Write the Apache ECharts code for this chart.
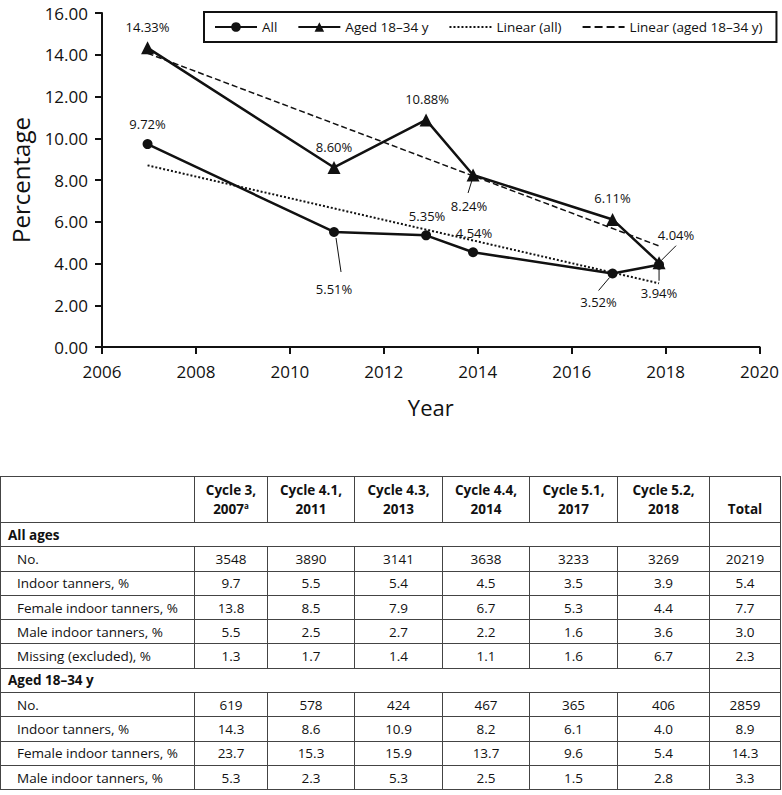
<!DOCTYPE html>
<html><head><meta charset="utf-8">
<script src="https://cdn.jsdelivr.net/npm/echarts@6/dist/echarts.min.js"></script>
<style>
html,body{margin:0;padding:0;background:#fff;}
body{width:782px;height:795px;position:relative;overflow:hidden;font-family:'Open Sans',sans-serif;}
#chart{position:absolute;left:0;top:0;width:782px;height:460px;}
#tbl{position:absolute;left:0;top:476px;border-collapse:collapse;table-layout:fixed;width:780px;font-size:13.5px;color:#111;}
#tbl td{border:1px solid #444;padding:0;text-align:center;height:23.3px;line-height:16px;white-space:nowrap;}
#tbl td.lab{text-align:left;padding-left:16px;}
#tbl td.sec{text-align:left;padding-left:7px;font-weight:bold;}
#tbl tr.head td{font-weight:bold;height:42px;vertical-align:bottom;padding-bottom:3px;line-height:19px;}
#tbl sup{font-size:8px;line-height:0;}
</style></head><body>
<div id="chart"></div>
<table id="tbl"></table>
<script>
// ---- chart data ----
const years = [2006.97, 2010.94, 2012.9, 2013.9, 2016.87, 2017.86];
const allAges = [9.72, 5.51, 5.35, 4.54, 3.52, 3.94];
const aged1834 = [14.33, 8.60, 10.88, 8.24, 6.11, 4.04];
const trendYears = [2006.97, 2017.86];
const trendAll = [8.70, 3.05];
const trendAged = [14.07, 4.84];
const seriesNames = ['All', 'Aged 18\u201334 y', 'Linear (all)', 'Linear (aged 18\u201334 y)'];

// ---- table data ----
const headLine1 = ['Cycle 3,', 'Cycle 4.1,', 'Cycle 4.3,', 'Cycle 4.4,', 'Cycle 5.1,', 'Cycle 5.2,'];
const headLine2 = ['2007', '2011', '2013', '2014', '2017', '2018'];
const headTotal = 'Total';
const sectionAll = 'All ages';
const rowsAll = [
  ['No.', '3548', '3890', '3141', '3638', '3233', '3269', '20219'],
  ['Indoor tanners, %', '9.7', '5.5', '5.4', '4.5', '3.5', '3.9', '5.4'],
  ['Female indoor tanners, %', '13.8', '8.5', '7.9', '6.7', '5.3', '4.4', '7.7'],
  ['Male indoor tanners, %', '5.5', '2.5', '2.7', '2.2', '1.6', '3.6', '3.0'],
  ['Missing (excluded), %', '1.3', '1.7', '1.4', '1.1', '1.6', '6.7', '2.3']
];
const sectionAged = 'Aged 18\u201334 y';
const rowsAged = [
  ['No.', '619', '578', '424', '467', '365', '406', '2859'],
  ['Indoor tanners, %', '14.3', '8.6', '10.9', '8.2', '6.1', '4.0', '8.9'],
  ['Female indoor tanners, %', '23.7', '15.3', '15.9', '13.7', '9.6', '5.4', '14.3'],
  ['Male indoor tanners, %', '5.3', '2.3', '5.3', '2.5', '1.5', '2.8', '3.3']
];

// ---- layout (label centre offsets from point, px; leader segments relative to point) ----
const offAll = [[0,-20],[0,57],[1,-19],[1,-19],[-14,28],[0,28]];
const leadAll = [null, [[2,6],[7,40]], null, null, [[-3,4],[-14,17]], [[0,4],[0,16]]];
const offAged = [[0,-21],[0,-20],[1,-21],[-4,31],[0,-21],[17,-28]];
const leadAged = [null, null, null, [[-1,5],[-5,18]], null, [[0,0],[17,-17]]];
const colWidths = [194, 73, 87, 88, 87, 88, 92, 71];

const FONT = "'Open Sans', sans-serif";
function layoutFn(offs){
  return function(p){
    const o = offs[p.dataIndex];
    return {x: p.rect.x + p.rect.width/2 + o[0], y: p.rect.y + p.rect.height/2 + o[1], align:'center', verticalAlign:'middle'};
  };
}
const labelCfg = {show:true, position:'inside', color:'#111', fontFamily:FONT, fontSize:13,
  formatter: p => p.value[1].toFixed(2) + '%'};
const noFill = {color:'rgba(0,0,0,0)', borderWidth:0};

const chart = echarts.init(document.getElementById('chart'), null, {renderer:'svg'});
chart.setOption({
  animation:false,
  backgroundColor:'#fff',
  grid:{left:97, right:22, top:13, height:334, containLabel:false},
  legend:{
    data: [
      {name:seriesNames[0]}, {name:seriesNames[1]},
      {name:seriesNames[2], itemStyle:noFill}, {name:seriesNames[3], itemStyle:noFill}
    ],
    left:204, top:12, orient:'horizontal',
    borderColor:'#111', borderWidth:2, padding:[8,14,8,10], itemGap:20,
    itemWidth:42, itemHeight:12,
    textStyle:{fontFamily:FONT, fontSize:13.5, color:'#111'}
  },
  xAxis:{
    type:'value', min:2006, max:2020, interval:2,
    name:'Year', nameLocation:'middle', nameGap:49,
    nameTextStyle:{fontFamily:FONT, fontSize:22, color:'#111'},
    axisLine:{lineStyle:{color:'#111', width:2}},
    axisTick:{show:true, length:7, lineStyle:{color:'#111', width:2}},
    axisLabel:{fontFamily:FONT, fontSize:17, color:'#111', margin:16, formatter:v=>String(v)},
    splitLine:{show:false}
  },
  yAxis:{
    type:'value', min:0, max:16, interval:2,
    name:'Percentage', nameLocation:'middle', nameGap:70, nameRotate:90,
    nameTextStyle:{fontFamily:FONT, fontSize:24, color:'#111'},
    axisLine:{show:true, lineStyle:{color:'#111', width:2}},
    axisTick:{show:true, length:7, lineStyle:{color:'#111', width:2}},
    axisLabel:{fontFamily:FONT, fontSize:17, color:'#111', margin:14, formatter:v=>v.toFixed(2)},
    splitLine:{show:false}
  },
  series:[
    {name:seriesNames[2], type:'line', symbol:'none', silent:true, z:1,
     data: trendYears.map((x,i)=>[x, trendAll[i]]),
     itemStyle:noFill,
     lineStyle:{color:'#111', width:2, type:'dotted'}},
    {name:seriesNames[3], type:'line', symbol:'none', silent:true, z:1,
     data: trendYears.map((x,i)=>[x, trendAged[i]]),
     itemStyle:noFill,
     lineStyle:{color:'#111', width:1.5, type:'dashed'}},
    {name:seriesNames[0], type:'line', symbol:'circle', symbolSize:10, z:3,
     data: years.map((x,i)=>[x, allAges[i]]),
     lineStyle:{color:'#111', width:2.5}, itemStyle:{color:'#111'},
     label:labelCfg, labelLayout:layoutFn(offAll)},
    {name:seriesNames[1], type:'line', symbol:'triangle', symbolSize:13, z:3,
     data: years.map((x,i)=>[x, aged1834[i]]),
     lineStyle:{color:'#111', width:2.5}, itemStyle:{color:'#111'},
     label:labelCfg, labelLayout:layoutFn(offAged)}
  ]
});

// leader lines for moved labels, anchored to data points via the chart's own scale
function leaders(vals, segs){
  const out = [];
  vals.forEach((v,i)=>{
    const s = segs[i]; if(!s) return;
    const p = chart.convertToPixel({gridIndex:0}, [years[i], v]);
    out.push({type:'line', silent:true, z:10,
      shape:{x1:p[0]+s[0][0], y1:p[1]+s[0][1], x2:p[0]+s[1][0], y2:p[1]+s[1][1]},
      style:{stroke:'#111', lineWidth:1}});
  });
  return out;
}
chart.setOption({graphic: leaders(allAges, leadAll).concat(leaders(aged1834, leadAged))});

// ---- table ----
const tbl = document.getElementById('tbl');
const cg = document.createElement('colgroup');
colWidths.forEach(w=>{const c=document.createElement('col'); c.style.width=w+'px'; cg.appendChild(c);});
tbl.appendChild(cg);
function addRow(cells, cls){
  const tr = document.createElement('tr');
  if(cls) tr.className = cls;
  cells.forEach(c=>{const td=document.createElement('td'); if(c.html!==undefined) td.innerHTML=c.html; else td.textContent=c.text; if(c.cls) td.className=c.cls; if(c.span) td.colSpan=c.span; tr.appendChild(td);});
  tbl.appendChild(tr);
}
const head = [{text:''}];
headLine1.forEach((h,i)=>head.push({html: h + '<br>' + headLine2[i] + (i===0 ? '<sup>a</sup>' : '')}));
head.push({text:headTotal});
addRow(head, 'head');
function addSection(title, rows){
  addRow([{text:title, cls:'sec', span:7},{text:''}]);
  rows.forEach(r=>addRow(r.map((v,i)=>({text:v, cls: i===0?'lab':''}))));
}
addSection(sectionAll, rowsAll);
addSection(sectionAged, rowsAged);
</script>
</body></html>
